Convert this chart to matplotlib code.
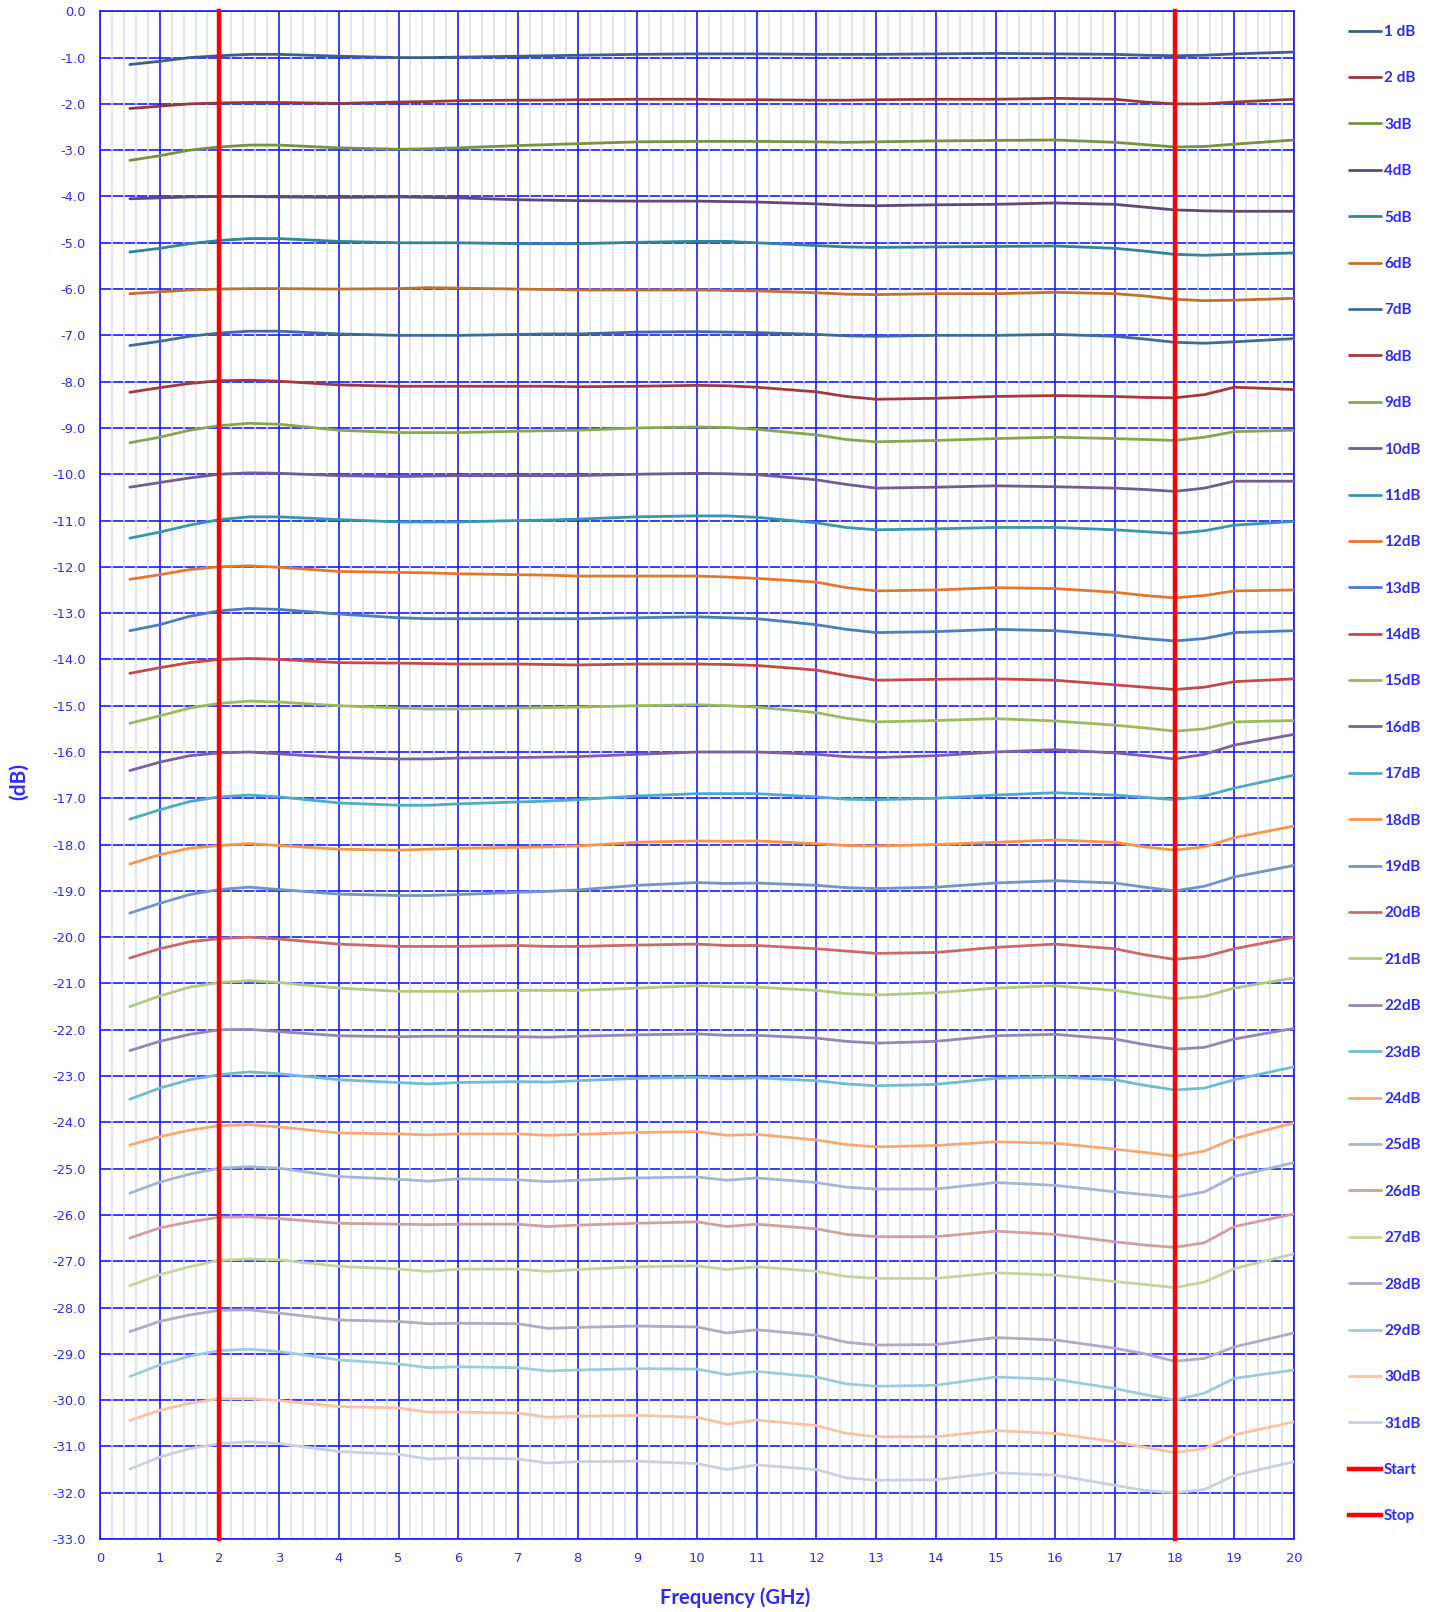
import matplotlib
matplotlib.use("Agg")
import matplotlib.pyplot as plt
from matplotlib.ticker import MultipleLocator, FormatStrFormatter

freq = [0.5, 1, 1.5, 2, 2.5, 3, 4, 5, 5.5, 6, 7, 7.5, 8, 9, 10, 10.5, 11, 12, 12.5, 13,
        14, 15, 16, 17, 17.5, 18, 18.5, 19, 20]

s1 = [-1.15, -1.08, -1.0, -0.96, -0.93, -0.93, -0.97, -1.0, -1.0, -0.99, -0.97, -0.96, -0.95, -0.93, -0.92, -0.92, -0.92, -0.93, -0.93, -0.93, -0.92, -0.91, -0.92, -0.93, -0.95, -0.96, -0.95, -0.92, -0.88]
s2 = [-2.1, -2.05, -2.0, -1.98, -1.97, -1.97, -1.99, -1.96, -1.95, -1.93, -1.92, -1.92, -1.91, -1.9, -1.9, -1.91, -1.91, -1.92, -1.92, -1.91, -1.9, -1.9, -1.88, -1.9, -1.96, -2.0, -2.0, -1.96, -1.9]
s3 = [-3.22, -3.12, -3.0, -2.93, -2.89, -2.89, -2.95, -2.98, -2.97, -2.95, -2.9, -2.88, -2.86, -2.82, -2.81, -2.81, -2.81, -2.82, -2.83, -2.82, -2.8, -2.79, -2.78, -2.83, -2.88, -2.93, -2.92, -2.87, -2.78]
s4 = [-4.05, -4.03, -4.01, -4.0, -4.0, -4.01, -4.02, -4.01, -4.02, -4.03, -4.07, -4.08, -4.09, -4.1, -4.1, -4.11, -4.12, -4.16, -4.19, -4.2, -4.18, -4.17, -4.14, -4.17, -4.23, -4.29, -4.31, -4.32, -4.32]
s5 = [-5.2, -5.12, -5.02, -4.95, -4.91, -4.91, -4.97, -5.0, -5.0, -5.0, -5.02, -5.02, -5.02, -4.99, -4.97, -4.97, -5.0, -5.06, -5.09, -5.1, -5.09, -5.08, -5.07, -5.12, -5.18, -5.25, -5.27, -5.25, -5.22]
s6 = [-6.1, -6.06, -6.02, -6.0, -5.99, -5.99, -6.0, -5.99, -5.97, -5.98, -6.0, -6.01, -6.02, -6.02, -6.02, -6.03, -6.04, -6.08, -6.11, -6.12, -6.1, -6.1, -6.07, -6.1, -6.15, -6.22, -6.25, -6.24, -6.2]
s7 = [-7.22, -7.13, -7.02, -6.95, -6.91, -6.91, -6.97, -7.0, -7.0, -7.0, -6.98, -6.97, -6.97, -6.93, -6.92, -6.93, -6.94, -6.98, -7.01, -7.02, -7.0, -7.0, -6.98, -7.02, -7.08, -7.15, -7.17, -7.14, -7.07]
s8 = [-8.23, -8.13, -8.04, -7.98, -7.97, -7.99, -8.07, -8.1, -8.1, -8.1, -8.1, -8.1, -8.11, -8.1, -8.08, -8.09, -8.12, -8.22, -8.32, -8.38, -8.36, -8.32, -8.3, -8.32, -8.34, -8.35, -8.28, -8.12, -8.17]
s9 = [-9.32, -9.2, -9.05, -8.95, -8.9, -8.92, -9.05, -9.1, -9.1, -9.1, -9.07, -9.06, -9.05, -9.0, -8.98, -8.99, -9.03, -9.15, -9.25, -9.3, -9.27, -9.23, -9.2, -9.23, -9.25, -9.27, -9.2, -9.08, -9.05]
s10 = [-10.28, -10.18, -10.08, -10.0, -9.97, -9.98, -10.03, -10.05, -10.04, -10.03, -10.03, -10.03, -10.03, -10.0, -9.98, -9.99, -10.01, -10.12, -10.22, -10.3, -10.28, -10.25, -10.27, -10.3, -10.33, -10.37, -10.3, -10.15, -10.15]
s11 = [-11.38, -11.25, -11.1, -10.98, -10.92, -10.92, -10.98, -11.03, -11.03, -11.03, -11.0, -10.99, -10.97, -10.92, -10.9, -10.9, -10.93, -11.05, -11.15, -11.2, -11.18, -11.15, -11.15, -11.2, -11.24, -11.28, -11.22, -11.1, -11.02]
s12 = [-12.27, -12.17, -12.06, -12.0, -11.98, -12.01, -12.1, -12.12, -12.13, -12.15, -12.17, -12.18, -12.2, -12.2, -12.2, -12.22, -12.25, -12.33, -12.45, -12.52, -12.5, -12.45, -12.47, -12.55, -12.62, -12.67, -12.62, -12.52, -12.5]
s13 = [-13.38, -13.25, -13.07, -12.95, -12.9, -12.92, -13.02, -13.1, -13.12, -13.12, -13.12, -13.12, -13.12, -13.1, -13.08, -13.1, -13.12, -13.25, -13.35, -13.42, -13.4, -13.35, -13.38, -13.48, -13.55, -13.6, -13.55, -13.42, -13.38]
s14 = [-14.3, -14.18, -14.07, -14.0, -13.98, -14.0, -14.07, -14.08, -14.09, -14.1, -14.1, -14.11, -14.12, -14.1, -14.1, -14.11, -14.13, -14.23, -14.35, -14.45, -14.43, -14.42, -14.45, -14.55, -14.6, -14.65, -14.6, -14.48, -14.42]
s15 = [-15.38, -15.22, -15.05, -14.95, -14.9, -14.92, -15.0, -15.05, -15.07, -15.07, -15.05, -15.04, -15.03, -15.0, -14.98, -15.0, -15.03, -15.15, -15.27, -15.35, -15.32, -15.28, -15.33, -15.42, -15.48, -15.55, -15.5, -15.35, -15.32]
s16 = [-16.4, -16.22, -16.08, -16.02, -16.0, -16.04, -16.12, -16.15, -16.15, -16.13, -16.12, -16.11, -16.1, -16.05, -16.0, -16.0, -16.0, -16.05, -16.1, -16.12, -16.08, -16.0, -15.95, -16.02, -16.08, -16.15, -16.05, -15.85, -15.62]
s17 = [-17.45, -17.25, -17.07, -16.97, -16.93, -16.97, -17.1, -17.15, -17.15, -17.12, -17.08, -17.06, -17.03, -16.95, -16.9, -16.9, -16.9, -16.97, -17.02, -17.03, -17.0, -16.93, -16.88, -16.93, -16.98, -17.03, -16.95, -16.78, -16.5]
s18 = [-18.42, -18.22, -18.08, -18.02, -17.98, -18.02, -18.1, -18.12, -18.1, -18.08, -18.06, -18.05, -18.03, -17.95, -17.92, -17.93, -17.92, -17.98, -18.02, -18.03, -18.0, -17.95, -17.9, -17.95, -18.05, -18.12, -18.05, -17.85, -17.6]
s19 = [-19.48, -19.27, -19.08, -18.97, -18.92, -18.97, -19.07, -19.1, -19.1, -19.08, -19.03, -19.01, -18.98, -18.88, -18.82, -18.84, -18.83, -18.88, -18.93, -18.95, -18.92, -18.83, -18.78, -18.83, -18.92, -19.0, -18.9, -18.7, -18.45]
s20 = [-20.45, -20.25, -20.1, -20.03, -20.0, -20.04, -20.15, -20.2, -20.2, -20.2, -20.18, -20.2, -20.2, -20.17, -20.15, -20.18, -20.18, -20.25, -20.3, -20.35, -20.33, -20.22, -20.15, -20.25, -20.38, -20.48, -20.42, -20.25, -20.0]
s21 = [-21.5, -21.27, -21.08, -20.98, -20.94, -20.98, -21.1, -21.17, -21.17, -21.17, -21.15, -21.15, -21.15, -21.1, -21.05, -21.07, -21.08, -21.15, -21.22, -21.25, -21.2, -21.1, -21.05, -21.15, -21.25, -21.33, -21.28, -21.1, -20.88]
s22 = [-22.45, -22.25, -22.1, -22.0, -21.99, -22.04, -22.13, -22.15, -22.14, -22.14, -22.15, -22.16, -22.14, -22.11, -22.09, -22.12, -22.12, -22.18, -22.25, -22.29, -22.25, -22.13, -22.1, -22.2, -22.32, -22.42, -22.38, -22.2, -21.97]
s23 = [-23.5, -23.26, -23.08, -22.97, -22.91, -22.95, -23.08, -23.14, -23.17, -23.14, -23.12, -23.13, -23.1, -23.05, -23.03, -23.06, -23.04, -23.1, -23.17, -23.21, -23.18, -23.05, -23.02, -23.08, -23.2, -23.3, -23.26, -23.08, -22.8]
s24 = [-24.49, -24.31, -24.17, -24.07, -24.05, -24.1, -24.23, -24.25, -24.27, -24.25, -24.25, -24.28, -24.26, -24.22, -24.2, -24.28, -24.26, -24.38, -24.48, -24.53, -24.5, -24.42, -24.45, -24.58, -24.65, -24.73, -24.62, -24.35, -24.01]
s25 = [-25.53, -25.29, -25.12, -24.99, -24.96, -24.99, -25.17, -25.23, -25.27, -25.22, -25.24, -25.28, -25.25, -25.2, -25.18, -25.25, -25.2, -25.3, -25.4, -25.44, -25.44, -25.3, -25.36, -25.5, -25.56, -25.62, -25.5, -25.17, -24.87]
s26 = [-26.5, -26.28, -26.15, -26.05, -26.04, -26.08, -26.18, -26.2, -26.21, -26.2, -26.2, -26.25, -26.22, -26.18, -26.15, -26.25, -26.2, -26.3, -26.42, -26.47, -26.47, -26.35, -26.42, -26.58, -26.65, -26.7, -26.6, -26.25, -25.98]
s27 = [-27.53, -27.29, -27.12, -26.98, -26.95, -26.97, -27.11, -27.17, -27.22, -27.17, -27.17, -27.22, -27.18, -27.12, -27.1, -27.18, -27.12, -27.22, -27.33, -27.37, -27.37, -27.25, -27.3, -27.44, -27.5, -27.57, -27.45, -27.16, -26.84]
s28 = [-28.52, -28.3, -28.16, -28.06, -28.05, -28.12, -28.27, -28.3, -28.35, -28.34, -28.35, -28.45, -28.43, -28.4, -28.42, -28.55, -28.48, -28.6, -28.75, -28.81, -28.8, -28.65, -28.7, -28.88, -29.0, -29.16, -29.1, -28.85, -28.55]
s29 = [-29.49, -29.24, -29.05, -28.93, -28.9, -28.95, -29.13, -29.22, -29.3, -29.28, -29.3, -29.37, -29.35, -29.32, -29.33, -29.45, -29.38, -29.5, -29.65, -29.7, -29.68, -29.5, -29.55, -29.75, -29.88, -30.0, -29.85, -29.53, -29.35]
s30 = [-30.44, -30.22, -30.07, -29.97, -29.97, -30.01, -30.14, -30.17, -30.26, -30.26, -30.28, -30.37, -30.35, -30.33, -30.37, -30.52, -30.43, -30.55, -30.72, -30.79, -30.79, -30.66, -30.72, -30.9, -31.02, -31.13, -31.05, -30.75, -30.47]
s31 = [-31.49, -31.23, -31.05, -30.94, -30.9, -30.94, -31.11, -31.17, -31.27, -31.25, -31.27, -31.36, -31.33, -31.32, -31.37, -31.5, -31.4, -31.5, -31.68, -31.73, -31.72, -31.57, -31.62, -31.84, -31.95, -32.0, -31.93, -31.63, -31.33]

series = [s1, s2, s3, s4, s5, s6, s7, s8, s9, s10, s11, s12, s13, s14, s15, s16,
          s17, s18, s19, s20, s21, s22, s23, s24, s25, s26, s27, s28, s29, s30, s31]
labels = ["1 dB", "2 dB"] + [f"{i}dB" for i in range(3, 32)]
colors = ["#3A5F8B", "#943B3A", "#77933C", "#5F497A", "#31849B", "#C0712F",
          "#3E6A9E", "#A33A37", "#86A84A", "#735C94", "#3698B0", "#E4782A",
          "#4A7EBF", "#C44A47", "#9BBB59", "#7D60A0", "#4BACC6", "#F79646",
          "#7194C9", "#CD6866", "#AFCB7E", "#9686B5", "#6FBCD2", "#F9A86F",
          "#A3B4D5", "#D49E9D", "#C3D69B", "#B3A8C6", "#9BCCDB", "#FAC2A0",
          "#C6D1E4"]

start_x = [2, 2]
stop_x = [18, 18]
marker_y = [0, -33]

BLUE_TXT = "#2B2BFF"

fig = plt.figure(figsize=(14.34, 16.12), dpi=100)
ax = fig.add_axes([100 / 1434, (1612 - 1539) / 1612, 1194 / 1434, (1539 - 11.3) / 1612])

handles = []
for ys, lab, c in zip(series, labels, colors):
    h, = ax.plot(freq, ys, color=c, lw=2.0, label=lab, zorder=3, solid_capstyle="round")
    handles.append(h)
h1, = ax.plot(start_x, marker_y, color="#FF0000", lw=3.2, label="Start", zorder=4, clip_on=False)
h2, = ax.plot(stop_x, marker_y, color="#FF0000", lw=3.2, label="Stop", zorder=4, clip_on=False)
handles += [h1, h2]

ax.set_xlim(0, 20)
ax.set_ylim(-33, 0)
ax.xaxis.set_major_locator(MultipleLocator(1))
ax.xaxis.set_minor_locator(MultipleLocator(0.2))
ax.yaxis.set_major_locator(MultipleLocator(1))
ax.yaxis.set_major_formatter(FormatStrFormatter("%.1f"))

ax.yaxis.grid(True, which="major", color="#1A1AFF", lw=1.2)
ax.xaxis.grid(True, which="minor", color="#D3DDEF", lw=1.1)
ax.xaxis.grid(True, which="major", color="#1A1AFF", lw=1.2)
ax.yaxis.set_zorder(0.5)
ax.xaxis.set_zorder(0.6)

ax.tick_params(axis="both", which="both", length=0, colors=BLUE_TXT, labelsize=9.4)
ax.tick_params(axis="x", pad=9)
ax.tick_params(axis="y", pad=10)
for sp in ax.spines.values():
    sp.set_color("#1A1AFF")
    sp.set_linewidth(1.2)

fig.text(19 / 1434, 1 - 781 / 1612, "(dB)", rotation=90, ha="center", va="center",
         color=BLUE_TXT, fontsize=15, fontweight="bold", family="Lato")
fig.text(735 / 1434, 1 - 1598 / 1612, "Frequency (GHz)", ha="center", va="center",
         color=BLUE_TXT, fontsize=14.5, fontweight="bold", family="Lato")

leg = fig.legend(handles=handles, loc="upper left",
                 bbox_to_anchor=(1349 / 1434, 1 - 25 / 1612),
                 frameon=False, borderpad=0, borderaxespad=0,
                 handlelength=2.1, handletextpad=0.2, labelspacing=2.12,
                 prop={"family": "Lato", "weight": "bold", "size": 11})
for t in leg.get_texts():
    t.set_color(BLUE_TXT)

fig.savefig("out.png", dpi=100)
